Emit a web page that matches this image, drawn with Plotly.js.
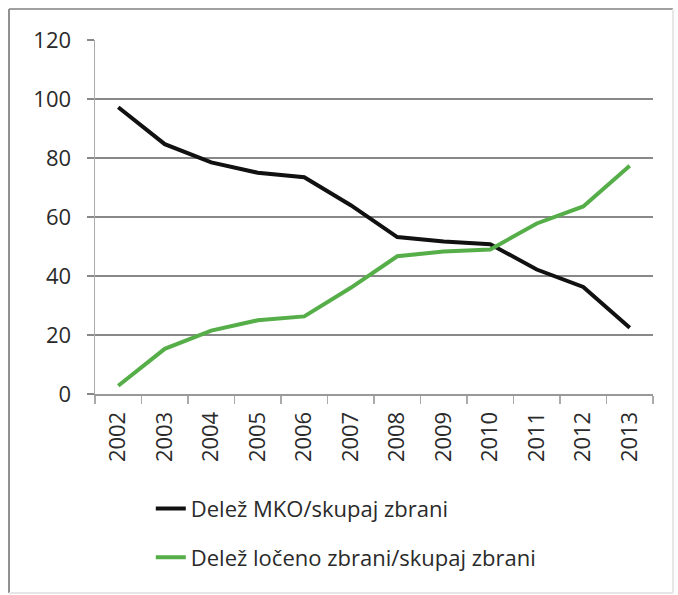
<!DOCTYPE html>
<html>
<head>
<meta charset="utf-8">
<script src="https://cdn.plot.ly/plotly-3.0.1.min.js"></script>
<style>html,body{margin:0;padding:0;background:#fff;}#chart{width:678px;height:595px;}</style>
</head>
<body>
<div id="chart"></div>
<script>
var years = ['2002','2003','2004','2005','2006','2007','2008','2009','2010','2011','2012','2013'];
var mkoShare = [97.2, 84.7, 78.5, 75.0, 73.5, 64.0, 53.2, 51.7, 50.8, 42.2, 36.3, 22.5];
var separateShare = [2.8, 15.3, 21.5, 25.0, 26.3, 36.0, 46.7, 48.3, 49.0, 57.8, 63.6, 77.4];
var seriesNames = ['Delež MKO/skupaj zbrani', 'Delež ločeno zbrani/skupaj zbrani'];
var yTicks = [0, 20, 40, 60, 80, 100, 120];

var font = '"Open Sans", Lato, sans-serif';
var textColor = '#2a2a2a';
var traces = [
  {x: years, y: mkoShare, name: seriesNames[0], type: 'scatter', mode: 'lines',
   line: {color: '#111111', width: 4}, legendgroup: 'a'},
  {x: years, y: separateShare, name: seriesNames[1], type: 'scatter', mode: 'lines',
   line: {color: '#55ae48', width: 4}, legendgroup: 'b'}
];

var layout = {
  width: 678, height: 595,
  margin: {l: 95, r: 25, t: 40, b: 201},
  paper_bgcolor: '#ffffff', plot_bgcolor: '#ffffff',
  font: {family: font, size: 22, color: textColor},
  showlegend: true,
  legend: {x: 0.1, xanchor: 'left', y: -0.265, yanchor: 'top', orientation: 'v',
           font: {family: font, size: 22, color: textColor}, tracegroupgap: 17,
           bgcolor: 'rgba(0,0,0,0)'},
  xaxis: {type: 'category', range: [-0.5, years.length - 0.5], tickangle: -90, showgrid: false, showline: true,
          linecolor: '#999999', linewidth: 2, ticks: 'outside', tickson: 'boundaries',
          ticklen: 8, tickcolor: '#aaaaaa', tickwidth: 1.5, zeroline: false, ticklabelstandoff: 7,
          tickfont: {family: font, size: 22, color: textColor}, fixedrange: true},
  yaxis: {range: [0, 120], tickvals: yTicks, showgrid: true, gridcolor: '#888888', gridwidth: 2,
          showline: true, linecolor: '#aaaaaa', linewidth: 1.5, ticks: 'outside', ticklen: 7,
          tickcolor: '#888888', tickwidth: 2, zeroline: false, ticklabelstandoff: 11,
          tickfont: {family: font, size: 22, color: textColor}, fixedrange: true},
  shapes: [
    {type: 'line', xref: 'paper', yref: 'paper', x0: -0.1541, x1: 1.0358, y0: 1.0876, y1: 1.0876, line: {color: '#a0a0a0', width: 2}},
    {type: 'line', xref: 'paper', yref: 'paper', x0: -0.1541, x1: -0.1541, y0: -0.5621, y1: 1.0876, line: {color: '#909090', width: 2}},
    {type: 'line', xref: 'paper', yref: 'paper', x0: 1.0358, x1: 1.0358, y0: -0.5621, y1: 1.0876, line: {color: '#e6e6e6', width: 2}},
    {type: 'line', xref: 'paper', yref: 'paper', x0: -0.1541, x1: 1.0358, y0: -0.5621, y1: -0.5621, line: {color: '#e6e6e6', width: 2}}
  ]
};

Plotly.newPlot('chart', traces, layout, {displayModeBar: false, staticPlot: true});
</script>
</body>
</html>
